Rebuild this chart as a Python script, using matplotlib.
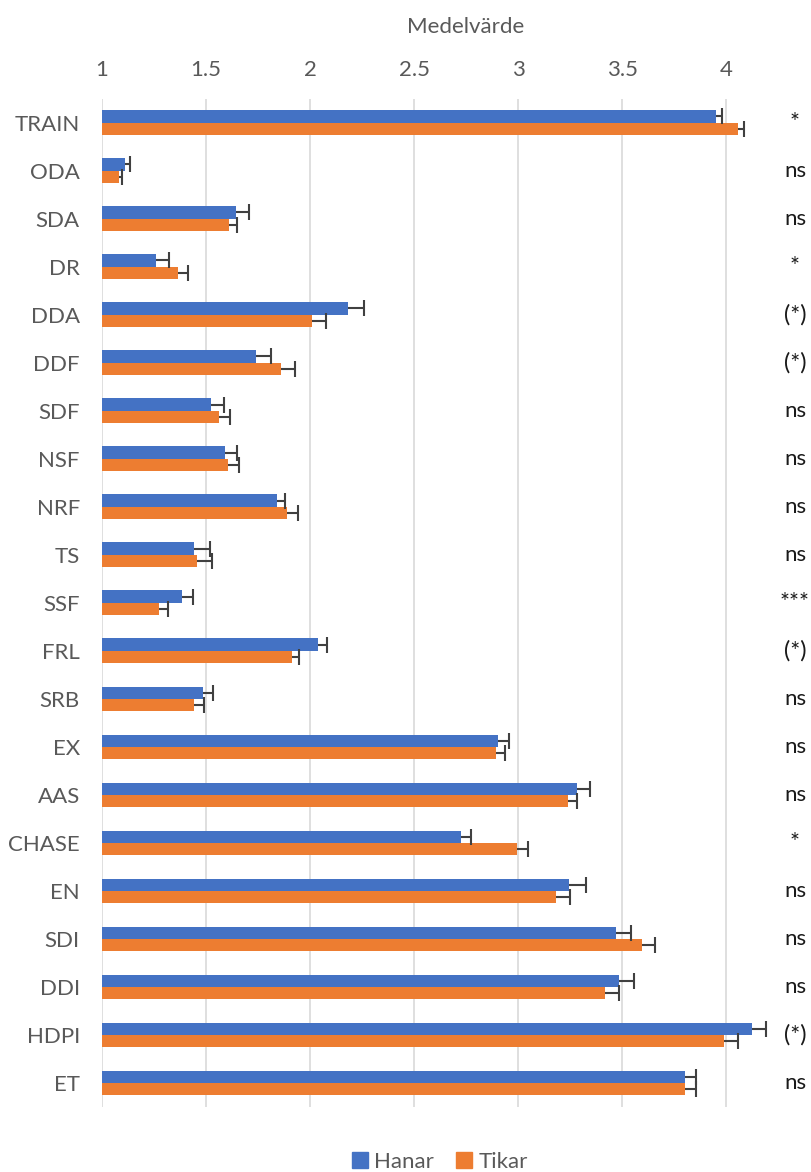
import matplotlib
matplotlib.use("Agg")
import matplotlib.pyplot as plt
from matplotlib.patches import Patch
from matplotlib.transforms import blended_transform_factory
import numpy as np

plt.rcParams['font.family'] = ['Lato', 'DejaVu Sans']

# data, top to bottom as in the chart
categories = ['TRAIN', 'ODA', 'SDA', 'DR', 'DDA', 'DDF', 'SDF', 'NSF', 'NRF', 'TS', 'SSF',
              'FRL', 'SRB', 'EX', 'AAS', 'CHASE', 'EN', 'SDI', 'DDI', 'HDPI', 'ET']
hanar = [3.95, 1.11, 1.645, 1.26, 2.18, 1.74, 1.525, 1.59, 1.84, 1.44, 1.385,
         2.04, 1.485, 2.905, 3.28, 2.725, 3.245, 3.47, 3.485, 4.123, 3.80]
hanar_err = [0.03, 0.025, 0.06, 0.06, 0.08, 0.07, 0.06, 0.06, 0.04, 0.08, 0.05,
             0.04, 0.05, 0.05, 0.065, 0.05, 0.08, 0.07, 0.07, 0.067, 0.053]
tikar = [4.055, 1.08, 1.61, 1.365, 2.01, 1.86, 1.56, 1.605, 1.89, 1.455, 1.275,
         1.915, 1.44, 2.895, 3.24, 2.995, 3.18, 3.595, 3.415, 3.987, 3.80]
tikar_err = [0.03, 0.015, 0.04, 0.05, 0.065, 0.065, 0.055, 0.055, 0.05, 0.075, 0.04,
             0.03, 0.05, 0.04, 0.04, 0.05, 0.07, 0.06, 0.07, 0.067, 0.053]
significance = ['*', 'ns', 'ns', '*', '(*)', '(*)', 'ns', 'ns', 'ns', 'ns', '***',
                '(*)', 'ns', 'ns', 'ns', '*', 'ns', 'ns', 'ns', '(*)', 'ns']

blue = '#4472C4'
orange = '#ED7D31'
grey_text = '#595959'
err_col = '#404040'

W, H = 812, 1172
fig = plt.figure(figsize=(W / 100, H / 100), dpi=100)
ax = fig.add_axes([102 / W, 1 - 1107 / H, (768 - 102) / W, (1107 - 98.5) / H])

y = np.arange(len(categories))
bar_h = 0.256

for vals, errs, off, col in [(hanar, hanar_err, -bar_h / 2, blue),
                             (tikar, tikar_err, bar_h / 2, orange)]:
    vals = np.array(vals)
    errs = np.array(errs)
    ax.barh(y + off, vals - 1, left=1, height=bar_h, color=col, zorder=2)
    # plus-only error bars with a cap at the outer end
    ax.hlines(y + off, vals, vals + errs, color=err_col, linewidth=1.5, zorder=3)
    ax.plot(vals + errs, y + off, ls='none', marker='|', markersize=11,
            markeredgewidth=1.5, color=err_col, zorder=3)

ax.set_xlim(1, 4.2)
ax.set_ylim(len(categories) - 0.5, -0.5)
ax.set_xticks(np.arange(1, 4.01, 0.5))
ax.set_xticklabels(['1', '1.5', '2', '2.5', '3', '3.5', '4'])
ax.xaxis.tick_top()
ax.set_yticks(y)
ax.set_yticklabels(categories)
ax.tick_params(axis='x', length=0, pad=13, labelsize=16, labelcolor=grey_text)
ax.tick_params(axis='y', length=0, pad=16, labelsize=16, labelcolor=grey_text)

ax.grid(axis='x', color='#D9D9D9', linewidth=1.2, zorder=0)
for s in ax.spines.values():
    s.set_visible(False)

fig.text(466 / W, 1 - 27 / H, 'Medelvärde', ha='center', va='center',
         fontsize=16, color=grey_text)

# significance labels at the right
trans = blended_transform_factory(fig.transFigure, ax.transData)
for i, lab in enumerate(significance):
    ax.text(795 / W, i, lab, transform=trans, ha='center', va='center',
            fontsize=17 if '*' in lab else 16, color='#1a1a1a')

handles = [Patch(color=blue, label='Hanar'), Patch(color=orange, label='Tikar')]
fig.legend(handles=handles, loc='center', bbox_to_anchor=(440 / W, 1 - 1162 / H),
           ncol=2, frameon=False, fontsize=16, handlelength=0.7, handleheight=0.7,
           handletextpad=0.3, columnspacing=1.0, labelcolor=grey_text)

fig.savefig('out.png', dpi=100)
